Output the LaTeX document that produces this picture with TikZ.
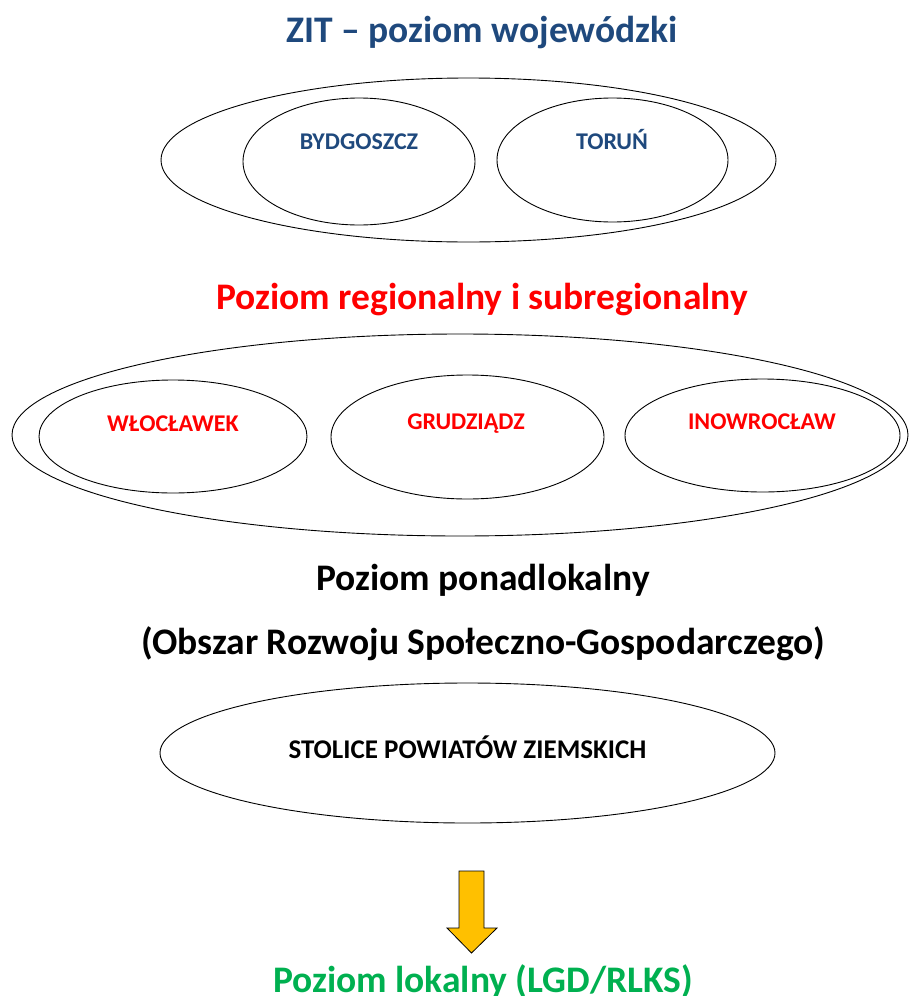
\documentclass[tikz,border=0pt]{standalone}
\usepackage{fontspec}
\setmainfont{Carlito}
\usetikzlibrary{shapes.geometric}
\definecolor{zitblue}{HTML}{1F497D}
\definecolor{regred}{HTML}{FF0000}
\definecolor{locgreen}{HTML}{00B050}
\definecolor{arrowfill}{HTML}{FFC000}
\tikzset{
  oval/.style={draw=black, line width=0.9pt, ellipse, inner sep=0pt},
  heading/.style={font=\fontsize{37.5}{42}\selectfont\bfseries, inner sep=0pt, anchor=base},
  citylabel/.style={font=\fontsize{24}{28}\selectfont\bfseries, inner sep=0pt, anchor=base},
  bigcitylabel/.style={font=\fontsize{27}{31}\selectfont\bfseries, inner sep=0pt, anchor=base}
}
\begin{document}
\begin{tikzpicture}[x=1pt,y=-1pt]
\useasboundingbox (0,0) rectangle (910,996);
% ZIT level
\node[heading, text=zitblue] (zit) at (482,42) {ZIT – poziom wojewódzki};
\node[oval, minimum width=615pt, minimum height=164pt] (zitoval) at (468.5,160) {};
\node[oval, minimum width=232pt, minimum height=127pt] (byd) at (359,161.5) {};
\node[oval, minimum width=231pt, minimum height=124pt] (tor) at (612.5,160) {};
\node[citylabel, text=zitblue] (bydl) at (359,149) {BYDGOSZCZ};
\node[citylabel, text=zitblue] (torl) at (612,149) {TORUŃ};
% regional level
\node[heading, text=regred] (reg) at (482,309) {Poziom regionalny i subregionalny};
\node[oval, minimum width=896pt, minimum height=202pt] (regoval) at (460,435) {};
\node[oval, minimum width=268pt, minimum height=113pt] (wlo) at (173,436.5) {};
\node[oval, minimum width=273pt, minimum height=124pt] (gru) at (467.5,437) {};
\node[oval, minimum width=275pt, minimum height=113pt] (ino) at (762.5,435.5) {};
\node[citylabel, text=regred] (wlol) at (173,431) {WŁOCŁAWEK};
\node[citylabel, text=regred] (grul) at (466,429) {GRUDZIĄDZ};
\node[citylabel, text=regred] (inol) at (762,429) {INOWROCŁAW};
% supralocal level
\node[heading, text=black] (pon) at (483,590) {Poziom ponadlokalny};
\node[heading, text=black] (orsg) at (483,654) {(Obszar Rozwoju Społeczno-Gospodarczego)};
\node[oval, minimum width=615pt, minimum height=140pt] (stol) at (467.5,753) {};
\node[bigcitylabel, text=black] (stoll) at (467.5,758.5) {STOLICE POWIATÓW ZIEMSKICH};
% arrow
\coordinate (atop) at (471.5,871);
\coordinate (atip) at (471.5,953);
\draw[line width=0.8pt, fill=arrowfill, line join=miter]
  (459,871) -- (484,871) -- (484,928) -- (497,928) -- (atip) -- (447,928) -- (459,928) -- cycle;
\node[heading, text=locgreen] (lok) at (483,992) {Poziom lokalny (LGD/RLKS)};
\end{tikzpicture}
\end{document}
